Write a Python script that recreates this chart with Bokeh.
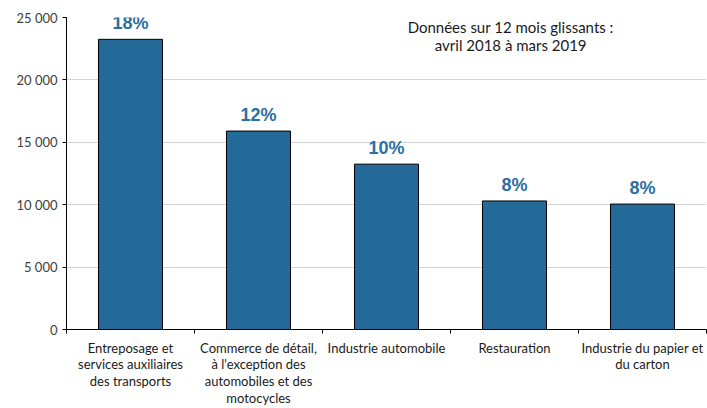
from bokeh.plotting import figure
from bokeh.models import Range1d, FixedTicker, Label, ColumnDataSource
from bokeh.embed import file_html
from bokeh.resources import INLINE
from bokeh.core.properties import value

categories = [
    "Entreposage et\nservices auxiliaires\ndes transports",
    "Commerce de détail,\nà l'exception des\nautomobiles et des\nmotocycles",
    "Industrie automobile",
    "Restauration",
    "Industrie du papier et\ndu carton",
]
values = [23250, 15900, 13250, 10300, 10050]
shares = ["18%", "12%", "10%", "8%", "8%"]
y_ticks = [0, 5000, 10000, 15000, 20000, 25000]
y_tick_labels = ["0", "5 000", "10 000", "15 000", "20 000", "25 000"]
note = "Données sur 12 mois glissants :\navril 2018 à mars 2019"

n = len(categories)
centers = [i + 0.5 for i in range(n)]
bounds = list(range(n + 1))

p = figure(width=707, height=408, output_backend="svg", toolbar_location=None,
           x_range=Range1d(0, n), y_range=Range1d(0, 25000),
           min_border_left=66, min_border_right=1, min_border_top=17, min_border_bottom=0)
p.outline_line_color = None
p.background_fill_color = "white"
p.border_fill_color = "white"

src = ColumnDataSource(dict(x=centers, top=values, share=shares))
p.vbar(x="x", top="top", width=0.5, source=src, fill_color="#236a98",
       line_color="black", line_width=1)
p.text(x="x", y="top", text="share", source=src, y_offset=-6,
       text_align="center", text_baseline="bottom",
       text_font=value("Liberation Sans"), text_font_style="bold",
       text_font_size="18px", text_color="#2b6fa3")

# x axis
xa = p.xaxis[0]
xa.ticker = FixedTicker(ticks=centers, minor_ticks=bounds)
xa.major_label_overrides = {c: lab for c, lab in zip(centers, categories)}
xa.major_tick_line_color = None
xa.minor_tick_in = 0
xa.minor_tick_out = 4
xa.minor_tick_line_color = "black"
xa.axis_line_color = "black"
xa.major_label_standoff = 4
xa.major_label_text_font = "Lato"
xa.major_label_text_font_size = "13px"
xa.major_label_text_color = "#1a1a1a"
xa.major_label_text_line_height = 1.05
xa.major_label_orientation = "horizontal"

# y axis
ya = p.yaxis[0]
ya.ticker = FixedTicker(ticks=y_ticks)
ya.major_label_overrides = {t: l for t, l in zip(y_ticks, y_tick_labels)}
ya.major_tick_in = 0
ya.major_tick_out = 4
ya.minor_tick_line_color = None
ya.axis_line_color = "black"
ya.major_tick_line_color = "black"
ya.major_label_standoff = 5
ya.major_label_text_font = "Lato"
ya.major_label_text_font_size = "13px"
ya.major_label_text_color = "#404040"

p.xgrid.grid_line_color = None
p.ygrid.grid_line_color = "#a6a6a6"
p.ygrid.grid_line_dash = "1 1"
p.ygrid.grid_line_width = 1

p.add_layout(Label(x=3.47, y=24930, text=note, text_align="center",
                   text_baseline="top", text_font="Lato", text_font_size="15px",
                   text_color="#1a1a1a", text_line_height=1.0))

open("out.html", "w").write(file_html(p, INLINE))
